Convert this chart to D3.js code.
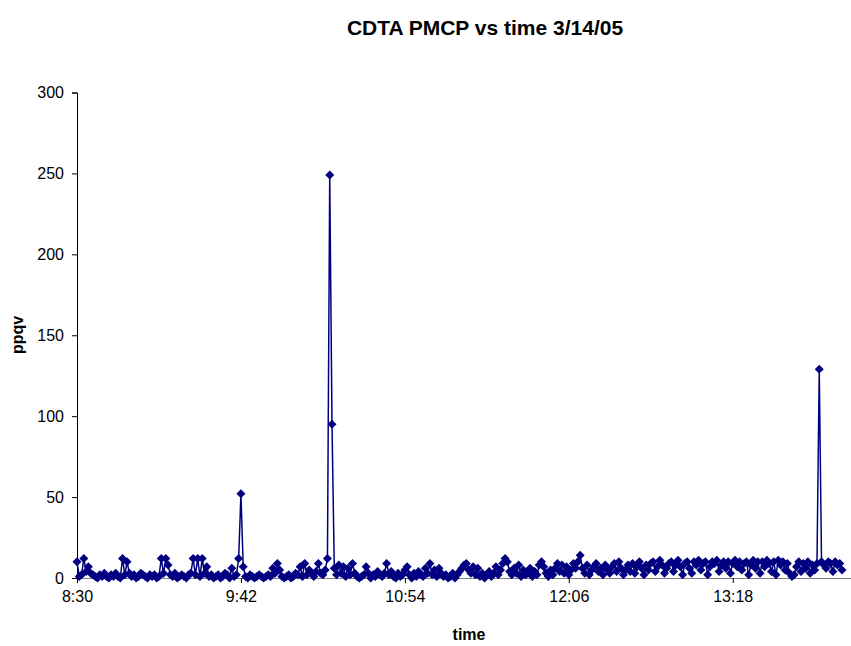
<!DOCTYPE html>
<html><head><meta charset="utf-8">
<script src="https://cdn.jsdelivr.net/npm/d3@7"></script>
<style>body{margin:0;background:#fff;overflow:hidden}svg{display:block;font-family:"Liberation Sans",Arial,sans-serif}</style>
</head><body><svg id="c" width="851" height="646"></svg>
<script>
const times = [
"8:30","8:31","8:32","8:33","8:34","8:35","8:36","8:37","8:38","8:39","8:40","8:41","8:42","8:43","8:44","8:45","8:46","8:47","8:48","8:49","8:50","8:51","8:52","8:53","8:54","8:55","8:56","8:57","8:58","8:59",
"9:00","9:01","9:02","9:03","9:04","9:05","9:06","9:07","9:08","9:09","9:10","9:11","9:12","9:13","9:14","9:15","9:16","9:17","9:18","9:19","9:20","9:21","9:22","9:23","9:24","9:25","9:26","9:27","9:28","9:29",
"9:30","9:31","9:32","9:33","9:34","9:35","9:36","9:37","9:38","9:39","9:40","9:41","9:42","9:43","9:44","9:45","9:46","9:47","9:48","9:49","9:50","9:51","9:52","9:53","9:54","9:55","9:56","9:57","9:58","9:59",
"10:00","10:01","10:02","10:03","10:04","10:05","10:06","10:07","10:08","10:09","10:10","10:11","10:12","10:13","10:14","10:15","10:16","10:17","10:18","10:19","10:20","10:21","10:22","10:23","10:24","10:25","10:26","10:27","10:28","10:29",
"10:30","10:31","10:32","10:33","10:34","10:35","10:36","10:37","10:38","10:39","10:40","10:41","10:42","10:43","10:44","10:45","10:46","10:47","10:48","10:49","10:50","10:51","10:52","10:53","10:54","10:55","10:56","10:57","10:58","10:59",
"11:00","11:01","11:02","11:03","11:04","11:05","11:06","11:07","11:08","11:09","11:10","11:11","11:12","11:13","11:14","11:15","11:16","11:17","11:18","11:19","11:20","11:21","11:22","11:23","11:24","11:25","11:26","11:27","11:28","11:29",
"11:30","11:31","11:32","11:33","11:34","11:35","11:36","11:37","11:38","11:39","11:40","11:41","11:42","11:43","11:44","11:45","11:46","11:47","11:48","11:49","11:50","11:51","11:52","11:53","11:54","11:55","11:56","11:57","11:58","11:59",
"12:00","12:01","12:02","12:03","12:04","12:05","12:06","12:07","12:08","12:09","12:10","12:11","12:12","12:13","12:14","12:15","12:16","12:17","12:18","12:19","12:20","12:21","12:22","12:23","12:24","12:25","12:26","12:27","12:28","12:29",
"12:30","12:31","12:32","12:33","12:34","12:35","12:36","12:37","12:38","12:39","12:40","12:41","12:42","12:43","12:44","12:45","12:46","12:47","12:48","12:49","12:50","12:51","12:52","12:53","12:54","12:55","12:56","12:57","12:58","12:59",
"13:00","13:01","13:02","13:03","13:04","13:05","13:06","13:07","13:08","13:09","13:10","13:11","13:12","13:13","13:14","13:15","13:16","13:17","13:18","13:19","13:20","13:21","13:22","13:23","13:24","13:25","13:26","13:27","13:28","13:29",
"13:30","13:31","13:32","13:33","13:34","13:35","13:36","13:37","13:38","13:39","13:40","13:41","13:42","13:43","13:44","13:45","13:46","13:47","13:48","13:49","13:50","13:51","13:52","13:53","13:54","13:55","13:56","13:57","13:58","13:59",
"14:00","14:01","14:02","14:03","14:04","14:05","14:06"];
const ppqv = [
10,1,2,12,4,7,3,2,1,0,2,1,3,1,0,2,1,3,1,0,
12,2,10,3,1,2,0,1,3,2,1,0,2,1,2,0,1,12,3,12,
8,2,1,3,0,1,2,1,0,2,3,12,2,12,1,12,3,7,1,2,
0,1,2,0,1,3,2,0,6,1,2,12,
52,7,
1,0,2,1,0,1,2,1,0,1,2,1,6,3,9,5,1,0,1,2,0,1,3,2,7,1,
9,2,5,3,1,4,9,3,2,5,12,
249,95,
6,2,8,3,7,1,6,2,9,3,1,0,1,2,7,3,0,2,1,4,2,1,3,9,2,4,1,0,
3,1,2,5,7,2,0,3,1,4,2,1,6,3,9,2,5,1,6,3,
1,2,0,1,3,0,2,4,6,8,9,5,3,7,2,6,1,3,0,2,
4,1,3,7,2,5,9,12,10,4,2,6,3,8,1,5,2,3,6,1,
4,2,8,10,7,3,1,5,2,6,9,4,8,3,7,2,5,9,6,10,
14,
6,3,8,2,5,7,9,4,6,2,8,5,3,7,9,4,10,6,2,
5,8,4,9,3,7,10,6,2,8,5,9,10,4,7,11,8,3,6,9,
10,4,8,11,7,2,9,10,6,3,10,8,11,5,9,10,2,7,10,9,
11,4,8,10,6,10,3,9,11,7,10,5,9,10,2,8,11,6,10,3,
10,7,11,9,4,10,2,11,8,10,5,9,3,1,2,7,10,4,9,6,10,3,8,5,9,
129,
10,8,6,10,9,4,10,8,9,5];
const yTicks = [0,50,100,150,200,250,300];
const xTickLabels = ["8:30","9:42","10:54","12:06","13:18"];
const xDomain = ["8:30","14:24"];

const toMin = s => { const [h,m] = s.split(":").map(Number); return h*60+m; };
const fmt = m => Math.floor(m/60) + ":" + String(m%60).padStart(2,"0");
const data = times.map((t,i)=>({x:toMin(t), y:ppqv[i]})).filter(d=>d.y!==undefined);

const svg = d3.select("#c");
const x = d3.scaleLinear().domain(xDomain.map(toMin)).range([77, 883]);
const y = d3.scaleLinear().domain([0,300]).range([578, 92.5]);

svg.append("text").attr("x",485).attr("y",35).attr("text-anchor","middle")
  .attr("font-weight","bold").attr("font-size",21).text("CDTA PMCP vs time 3/14/05");

const ya = svg.append("g").attr("transform","translate(77,0)")
  .call(d3.axisLeft(y).tickValues(yTicks).tickSize(5).tickPadding(8));
ya.select(".domain").attr("stroke","#000");
ya.selectAll("text").attr("font-size",16).attr("fill","#000").attr("font-family","Liberation Sans, Arial");
const xa = svg.append("g").attr("transform","translate(0,578)")
  .call(d3.axisBottom(x).tickValues(xTickLabels.map(toMin)).tickFormat(fmt).tickSize(5).tickPadding(8).tickSizeOuter(0));
xa.select(".domain").attr("stroke","#808080");
xa.selectAll("text").attr("font-size",16).attr("fill","#000").attr("font-family","Liberation Sans, Arial");

svg.append("text").attr("transform","translate(23,335) rotate(-90)").attr("text-anchor","middle")
  .attr("font-weight","bold").attr("font-size",16).text("ppqv");
svg.append("text").attr("x",469).attr("y",640).attr("text-anchor","middle")
  .attr("font-weight","bold").attr("font-size",16).text("time");

const line = d3.line().x(d=>x(d.x)).y(d=>y(d.y));
svg.append("path").datum(data).attr("d",line).attr("fill","none").attr("stroke","#000080").attr("stroke-width",1.5);
svg.append("g").selectAll("path").data(data).join("path")
  .attr("transform",d=>`translate(${x(d.x)},${y(d.y)})`)
  .attr("d","M0,-4.5L4.5,0L0,4.5L-4.5,0Z").attr("fill","#000080");
</script></body></html>
